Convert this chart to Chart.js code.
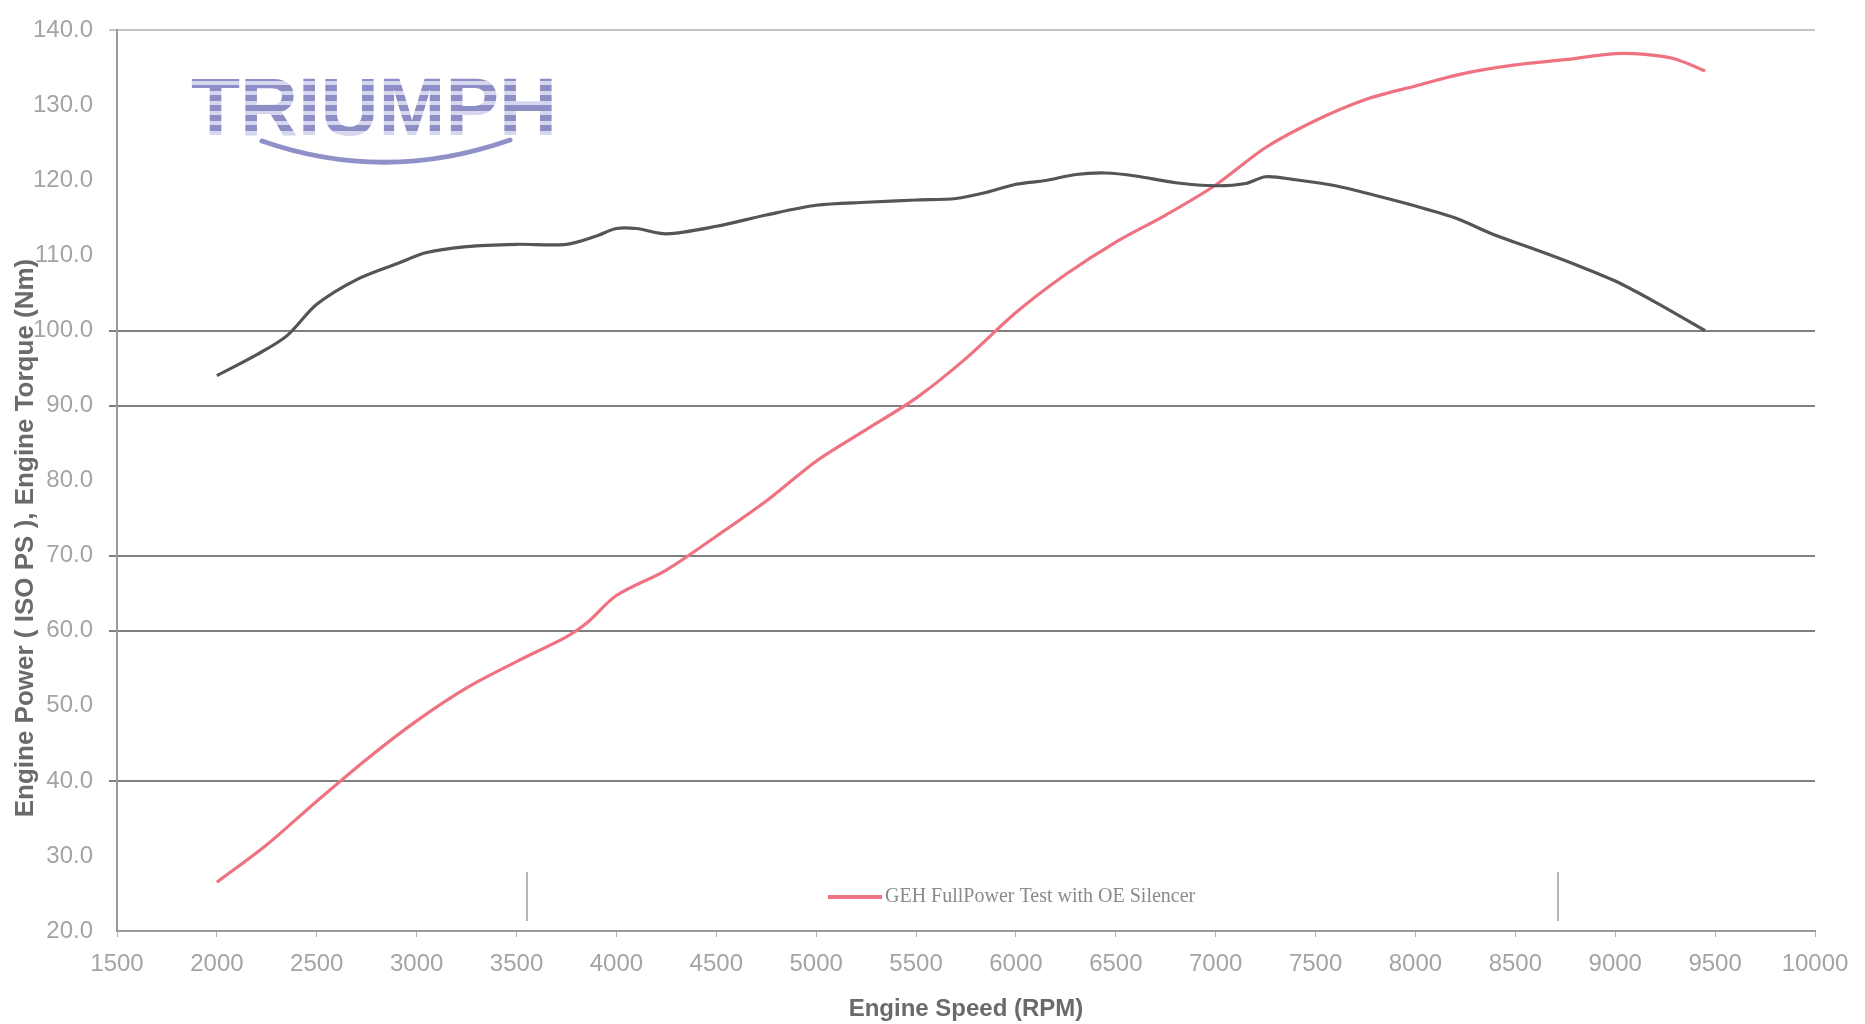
<!DOCTYPE html>
<html>
<head>
<meta charset="utf-8">
<title>Engine Power / Torque</title>
<script src="https://cdn.jsdelivr.net/npm/chart.js@4.4.1/dist/chart.umd.min.js"></script>
<style>
    html, body { margin: 0; padding: 0; background: #fff; }
    #wrap { width: 1865px; height: 1024px; }
</style>
</head>
<body>
<div id="wrap"><canvas id="dynoChart" width="1865" height="1024"></canvas></div>
<script>
// Torque curve (grey), Nm
const torqueRpm = [2000, 2200, 2350, 2500, 2700, 2900, 3050, 3250, 3500, 3750, 3900, 4000, 4100, 4250, 4500, 4750, 5000, 5250, 5500, 5700, 5850, 6000, 6150, 6300, 6450, 6600, 6800, 7000, 7150, 7250, 7400, 7600, 7800, 8000, 8200, 8400, 8600, 8800, 9000, 9200, 9450];
const torqueNm = [94.0, 96.8, 99.3, 103.5, 106.8, 108.9, 110.4, 111.2, 111.5, 111.5, 112.6, 113.6, 113.6, 112.9, 113.9, 115.4, 116.7, 117.1, 117.4, 117.6, 118.4, 119.5, 120.0, 120.8, 121.0, 120.6, 119.7, 119.3, 119.6, 120.5, 120.1, 119.3, 118.0, 116.6, 115.0, 112.7, 110.8, 108.8, 106.6, 103.8, 100.0];

// Power curve (red), ISO PS
const powerRpm = [2000, 2250, 2500, 2750, 3000, 3250, 3500, 3750, 3850, 4000, 4250, 4500, 4750, 5000, 5250, 5500, 5750, 6000, 6250, 6500, 6750, 7000, 7250, 7500, 7750, 8000, 8250, 8500, 8750, 9000, 9150, 9300, 9450];
const powerPs = [26.5, 31.5, 37.3, 42.9, 48.0, 52.4, 55.9, 59.2, 61.0, 64.7, 68.1, 72.6, 77.3, 82.6, 86.8, 91.0, 96.3, 102.4, 107.5, 111.8, 115.4, 119.4, 124.4, 128.0, 130.8, 132.6, 134.3, 135.4, 136.1, 136.9, 136.8, 136.2, 134.6];

const powerLabel = 'GEH FullPower Test with OE Silencer';
const xTitle = 'Engine Speed (RPM)';
const yTitle = 'Engine Power ( ISO PS ), Engine Torque (Nm)';
const brandName = 'TRIUMPH';

// gridlines that actually show in the original
const darkGridValues = [100, 90, 70, 60, 40];

function toPoints(xs, ys) {
    return xs.map((x, i) => ({ x: x, y: ys[i] }));
}

function gridColor(ctx) {
    const v = ctx.tick ? ctx.tick.value : null;
    if (v === 140) return '#c4c4c4';
    if (darkGridValues.indexOf(v) !== -1) return '#808080';
    return 'rgba(0,0,0,0)';
}

/**
 * Extras: y title, legend box inside plot, brand logo
 */
const extrasPlugin = {
    id: 'extras',
    afterDraw(chart) {
        const ctx = chart.ctx;

        // Y axis title (overlaps tick labels like the original)
        ctx.save();
        ctx.translate(26, 538);
        ctx.rotate(-Math.PI / 2);
        ctx.font = 'bold 26px "Liberation Sans", Arial, sans-serif';
        ctx.fillStyle = '#6a6a6a';
        ctx.textAlign = 'center';
        ctx.textBaseline = 'middle';
        ctx.fillText(yTitle, 0, 0);
        ctx.restore();

        // Legend box
        const boxL = 527, boxR = 1558, boxT = 872, boxB = 921;
        ctx.save();
        ctx.strokeStyle = '#a0a0a0';
        ctx.lineWidth = 1.5;
        ctx.beginPath();
        ctx.moveTo(boxL, boxT); ctx.lineTo(boxL, boxB);
        ctx.moveTo(boxR, boxT); ctx.lineTo(boxR, boxB);
        ctx.stroke();

        const ds = chart.data.datasets[1];
        const midY = 897;
        ctx.strokeStyle = ds.borderColor;
        ctx.lineWidth = 4;
        ctx.beginPath();
        ctx.moveTo(828, midY); ctx.lineTo(882, midY);
        ctx.stroke();
        ctx.font = '20px "Liberation Serif", serif';
        ctx.fillStyle = '#8a8a8a';
        ctx.textAlign = 'left';
        ctx.textBaseline = 'middle';
        ctx.fillText(ds.label, 885, midY);
        ctx.restore();
    },
    beforeDatasetsDraw(chart) {
        const ctx = chart.ctx;
        // Brand logo, striped lavender letters
        ctx.save();
        ctx.font = 'bold 82px "Liberation Sans", Arial, sans-serif';
        const w = ctx.measureText(brandName).width;
        const targetW = 366;
        const left = 191, base = 135;
        ctx.translate(left, base);
        ctx.scale(targetW / w, 1);
        const grad = ctx.createLinearGradient(0, -60, 0, 0);
        const n = 6;
        for (let i = 0; i < n; i++) {
            const a = i / n, b = (i + 0.62) / n, c = (i + 1) / n;
            grad.addColorStop(a, '#8e8ec6');
            grad.addColorStop(b, '#8e8ec6');
            grad.addColorStop(Math.min(b + 0.002, 1), '#d6d6ee');
            grad.addColorStop(Math.min(c - 0.002, 1), '#d6d6ee');
        }
        ctx.fillStyle = grad;
        ctx.textBaseline = 'alphabetic';
        ctx.fillText(brandName, 0, 0);
        ctx.restore();

        // swoosh under the letters
        ctx.save();
        ctx.strokeStyle = '#9090c8';
        ctx.lineWidth = 5;
        ctx.lineCap = 'round';
        ctx.beginPath();
        ctx.moveTo(262, 141);
        ctx.quadraticCurveTo(385, 184, 510, 140);
        ctx.stroke();
        ctx.restore();
    }
};

const ctx = document.getElementById('dynoChart');

new Chart(ctx, {
    type: 'line',
    data: {
        datasets: [
            {
                label: 'Torque',
                data: toPoints(torqueRpm, torqueNm),
                borderColor: '#555555',
                borderWidth: 3.2,
                pointRadius: 0,
                tension: 0.3,
                fill: false
            },
            {
                label: powerLabel,
                data: toPoints(powerRpm, powerPs),
                borderColor: '#ef7280',
                borderWidth: 3.2,
                pointRadius: 0,
                tension: 0.3,
                fill: false
            }
        ]
    },
    options: {
        responsive: false,
        animation: false,
        devicePixelRatio: 1,
        layout: {
            autoPadding: false,
            padding: { top: 13, right: 50, left: 0, bottom: 0 }
        },
        plugins: {
            legend: { display: false },
            tooltip: { enabled: false }
        },
        scales: {
            x: {
                type: 'linear',
                min: 1500,
                max: 10000,
                afterFit(scale) { scale.height = 93; },
                border: { color: '#9a9a9a', width: 2 },
                grid: {
                    drawOnChartArea: false,
                    tickLength: 6,
                    color: '#b0b0b0'
                },
                ticks: {
                    stepSize: 500,
                    padding: 13,
                    maxRotation: 0,
                    color: '#a4a4a4',
                    font: { family: '"Liberation Sans", Arial, sans-serif', size: 24 },
                    callback: (v) => String(v)
                },
                title: {
                    display: true,
                    text: xTitle,
                    color: '#6a6a6a',
                    padding: { top: 0, bottom: 0 },
                    font: { family: '"Liberation Sans", Arial, sans-serif', size: 24, weight: 'bold' }
                }
            },
            y: {
                min: 20,
                max: 140,
                afterFit(scale) { scale.width = 117; },
                border: { color: '#9a9a9a', width: 2 },
                grid: {
                    color: gridColor,
                    lineWidth: 2,
                    tickLength: 8
                },
                ticks: {
                    stepSize: 10,
                    padding: 16,
                    color: '#a4a4a4',
                    font: { family: '"Liberation Sans", Arial, sans-serif', size: 24 },
                    callback: (v) => Number(v).toFixed(1)
                }
            }
        }
    },
    plugins: [extrasPlugin]
});
</script>
</body>
</html>
